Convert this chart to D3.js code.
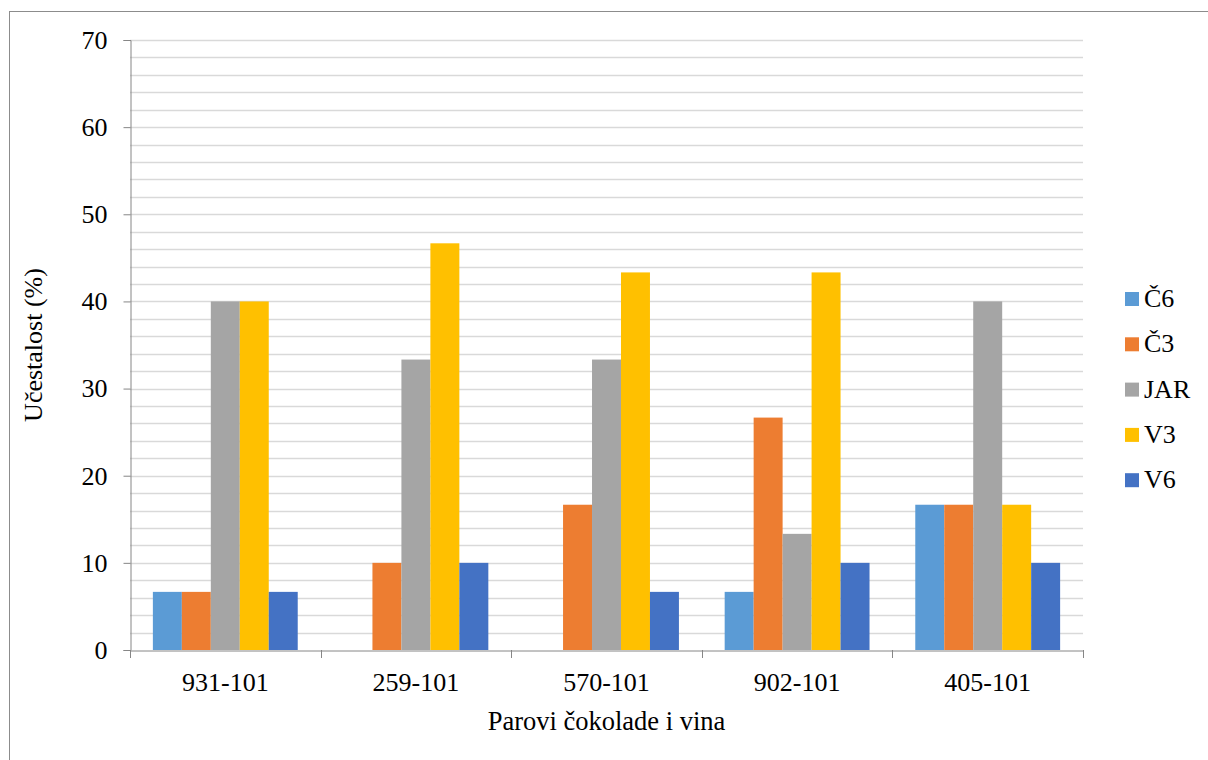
<!DOCTYPE html>
<meta charset="utf-8">
<body>
<script src="https://cdn.jsdelivr.net/npm/d3@7"></script>
<script>

    var pairs = ["931-101", "259-101", "570-101", "902-101", "405-101"];
    var series = ["Č6", "Č3", "JAR", "V3", "V6"];
    var colors = ["#5b9bd5", "#ed7d31", "#a5a5a5", "#ffc000", "#4472c4"];

    // one array per series, in the order of pairs
    var c6  = [6.67, 0, 0, 6.67, 16.67];
    var c3  = [6.67, 10, 16.67, 26.67, 16.67];
    var jar = [40, 33.33, 33.33, 13.33, 40];
    var v3  = [40, 46.67, 43.33, 43.33, 16.67];
    var v6  = [6.67, 10, 6.67, 10, 10];
    var values = [c6, c3, jar, v3, v6];

    var yTicks = [0, 10, 20, 30, 40, 50, 60, 70];

    var w = 1208, h = 760;
    var pLeft = 130, pRight = 1083, pTop = 40, pBottom = 650;
    var FONT = "Liberation Serif";

    d3.select("body").style("margin", "0").style("background", "#fff");

    var svg = d3.select("body")
            .append("svg")
            .attr("width", w)
            .attr("height", h)
            .style("display", "block");

    // helper: serif text settings on every label
    function serif(sel, size) {
        sel.attr("font-family", FONT)
           .style("font-family", FONT)
           .attr("font-size", size)
           .style("font-size", size + "px")
           .attr("fill", "#000");
    }

    // outer chart frame
    svg.append("rect")
            .attr("x", 9.5).attr("y", 11.5)
            .attr("width", 1300).attr("height", 900)
            .attr("fill", "none")
            .attr("stroke", "#8c8c8c")
            .attr("stroke-width", 1);

    var x = d3.scaleBand().domain(pairs).range([pLeft, pRight]);
    // bars fill the middle 76% of each category
    var inner = x.bandwidth() * 0.76;
    var x1 = d3.scaleBand().domain(series)
            .range([(x.bandwidth() - inner) / 2, (x.bandwidth() + inner) / 2]);

    var y = d3.scaleLinear().domain([0, 70]).range([pBottom, pTop]);

    // gridlines (major and minor every 2)
    svg.append("g")
            .selectAll("line")
            .data(d3.range(2, 71, 2))
            .enter()
            .append("line")
            .attr("x1", pLeft).attr("x2", pRight)
            .attr("y1", function(d) { return Math.round(y(d)) + 0.5; })
            .attr("y2", function(d) { return Math.round(y(d)) + 0.5; })
            .attr("stroke", "#d9d9d9")
            .attr("stroke-width", 1.5);

    // bars
    var groups = svg.append("g")
            .selectAll("g")
            .data(pairs)
            .enter()
            .append("g")
            .attr("transform", function(d) { return "translate(" + x(d) + ",0)"; });

    groups.selectAll("rect")
            .data(function(d, i) {
                return series.map(function(s, j) { return { s: s, v: values[j][i], c: colors[j] }; });
            })
            .enter()
            .append("rect")
            .attr("x", function(d) { return x1(d.s); })
            .attr("width", x1.bandwidth())
            .attr("y", function(d) { return y(d.v); })
            .attr("height", function(d) { return pBottom - y(d.v); })
            .attr("fill", function(d) { return d.c; });

    // y axis
    var yAxis = svg.append("g")
            .attr("transform", "translate(" + (pLeft + 0.5) + ",0)")
            .call(d3.axisLeft(y).tickValues(yTicks).tickSize(7).tickPadding(16));
    yAxis.attr("font-family", FONT);
    yAxis.select(".domain").attr("stroke", "#868686");
    yAxis.selectAll(".tick line").attr("stroke", "#868686");
    serif(yAxis.selectAll(".tick text"), 26);

    // x axis
    var xAxis = svg.append("g")
            .attr("transform", "translate(0," + (pBottom + 0.5) + ")")
            .call(d3.axisBottom(x).tickSize(0));
    xAxis.attr("font-family", FONT);
    xAxis.select(".domain").attr("stroke", "#868686");
    xAxis.selectAll(".tick text")
            .attr("y", 40.5)
            .attr("dy", null);
    serif(xAxis.selectAll(".tick text"), 26);

    // category separators below axis
    svg.append("g")
            .selectAll("line")
            .data(d3.range(pairs.length + 1))
            .enter()
            .append("line")
            .attr("x1", function(i) { return Math.round(pLeft + i * x.bandwidth()) + 0.5; })
            .attr("x2", function(i) { return Math.round(pLeft + i * x.bandwidth()) + 0.5; })
            .attr("y1", pBottom)
            .attr("y2", pBottom + 8)
            .attr("stroke", "#868686");

    // axis titles
    svg.append("text")
            .attr("x", (pLeft + pRight) / 2)
            .attr("y", 730)
            .attr("text-anchor", "middle")
            .call(serif, 26.5)
            .text("Parovi čokolade i vina");

    svg.append("text")
            .attr("transform", "translate(42," + (pTop + pBottom) / 2 + ") rotate(-90)")
            .attr("text-anchor", "middle")
            .call(serif, 26)
            .text("Učestalost (%)");

    // legend
    var legend = svg.append("g")
            .selectAll("g")
            .data(series)
            .enter()
            .append("g")
            .attr("transform", function(d, i) { return "translate(1125," + (299 + i * 45.3) + ")"; });

    legend.append("rect")
            .attr("x", 0).attr("y", -7)
            .attr("width", 14).attr("height", 14)
            .attr("fill", function(d, i) { return colors[i]; });

    legend.append("text")
            .attr("x", 19)
            .attr("y", 8)
            .call(serif, 26)
            .text(function(d) { return d; });

</script>
